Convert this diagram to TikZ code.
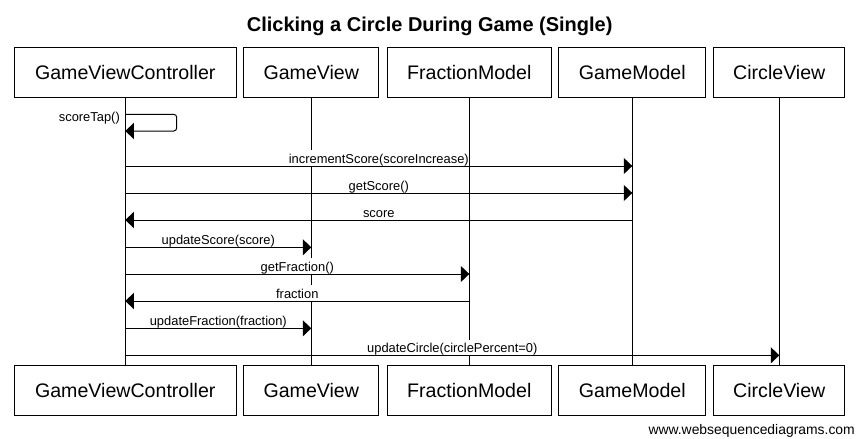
\documentclass[tikz,border=0pt]{standalone}
\usepackage{fontspec}
\setmainfont{Liberation Sans}
\usetikzlibrary{arrows.meta}
\begin{document}
\begin{tikzpicture}[x=1pt,y=-1pt,
  box/.style={draw, line width=1pt, minimum height=50pt, inner sep=0pt, font=\fontsize{19.6}{22}\selectfont},
  life/.style={line width=1pt},
  msg/.style={line width=1pt, -{Triangle[length=8.5pt,width=16pt]}},
  lbl/.style={fill=white, inner sep=0pt, text height=13pt, text depth=2.7pt, font=\fontsize{12.9}{15}\selectfont, anchor=base}]
\useasboundingbox (0,0) rectangle (857,439);
% title
\node[anchor=base, inner sep=0pt, font=\bfseries\fontsize{20}{24}\selectfont] (title) at (429.7,31) {Clicking a Circle During Game (Single)};
% top boxes
\node[box, minimum width=221.4pt] (t1) at (125.3,72) {GameViewController};
\node[box, minimum width=135pt]   (t2) at (311.3,72) {GameView};
\node[box, minimum width=164.3pt] (t3) at (469.3,72) {FractionModel};
\node[box, minimum width=147pt]   (t4) at (632.3,72) {GameModel};
\node[box, minimum width=130.7pt] (t5) at (779.3,72) {CircleView};
% bottom boxes
\node[box, minimum width=221.4pt] (b1) at (125.3,390.7) {GameViewController};
\node[box, minimum width=135pt]   (b2) at (311.3,390.7) {GameView};
\node[box, minimum width=164.3pt] (b3) at (469.3,390.7) {FractionModel};
\node[box, minimum width=147pt]   (b4) at (632.3,390.7) {GameModel};
\node[box, minimum width=130.7pt] (b5) at (779.3,390.7) {CircleView};
% lifelines
\draw[life] (t1.south) -- (b1.north);
\draw[life] (t2.south) -- (b2.north);
\draw[life] (t3.south) -- (b3.north);
\draw[life] (t4.south) -- (b4.north);
\draw[life] (t5.south) -- (b5.north);
% message rows
\coordinate (s1) at (0,114.3);
\coordinate (y1) at (0,166);
\coordinate (y2) at (0,193);
\coordinate (y3) at (0,220);
\coordinate (y4) at (0,247.3);
\coordinate (y5) at (0,274);
\coordinate (y6) at (0,301);
\coordinate (y7) at (0,328.3);
\coordinate (y8) at (0,355.3);
% self message
\draw[msg, rounded corners=3pt] (t1 |- s1) -- ++(51.4,0) -- ++(0,16.7) -- ++(-51.4,0);
\node[lbl, anchor=base east] (lst) at (120,121.5) {scoreTap()};
% messages
\draw[msg] (t1 |- y1) -- (t4 |- y1) node[lbl, midway, yshift=2.8pt] {incrementScore(scoreIncrease)};
\draw[msg] (t1 |- y2) -- (t4 |- y2) node[lbl, midway, yshift=2.8pt] {getScore()};
\draw[msg] (t4 |- y3) -- (t1 |- y3) node[lbl, midway, yshift=2.8pt] {score};
\draw[msg] (t1 |- y4) -- (t2 |- y4) node[lbl, midway, yshift=2.8pt] {updateScore(score)};
\draw[msg] (t1 |- y5) -- (t3 |- y5) node[lbl, midway, yshift=2.8pt] {getFraction()};
\draw[msg] (t3 |- y6) -- (t1 |- y6) node[lbl, midway, yshift=2.8pt] {fraction};
\draw[msg] (t1 |- y7) -- (t2 |- y7) node[lbl, midway, yshift=2.8pt] {updateFraction(fraction)};
\draw[msg] (t1 |- y8) -- (t5 |- y8) node[lbl, midway, yshift=2.8pt] {updateCircle(circlePercent=0)};
% watermark
\node[anchor=base east, inner sep=0pt, font=\fontsize{13.9}{16}\selectfont] (wm) at (855,434) {www.websequencediagrams.com};
\end{tikzpicture}
\end{document}
